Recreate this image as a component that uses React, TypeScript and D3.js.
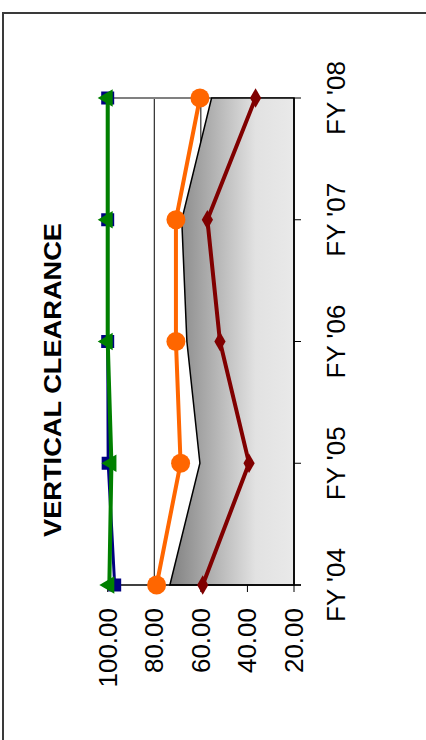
import React from "react";
import * as d3 from "d3";

const categories = ["FY '04", "FY '05", "FY '06", "FY '07", "FY '08"];
const areaValues = [73.3, 60.4, 66, 68.2, 55.4];
const orangeValues = [79, 68.7, 70.7, 70.7, 60.4];
const redValues = [59.2, 39.3, 51.8, 57.2, 36.5];
const blueValues = [97, 99.8, 100, 100, 100];
const greenValues = [99.3, 98.4, 100, 100, 100];
const valueTicks = [100, 80, 60, 40, 20];
const gridValues = [80, 60, 40];
const title = "VERTICAL CLEARANCE";

export default function App() {
  const y = d3.scalePoint<string>().domain(categories).range([585, 98]);
  const x = d3.scaleLinear().domain([20, 100]).range([294, 107.7]);

  const pts = (vals: number[]) => vals.map((v, i) => [v, categories[i]] as [number, string]);

  const line = d3
    .line<[number, string]>()
    .x((d) => x(d[0]))
    .y((d) => y(d[1])!);

  const area = d3
    .area<[number, string]>()
    .y((d) => y(d[1])!)
    .x0(() => x(20))
    .x1((d) => x(d[0]));

  const font = "'Liberation Sans', Arial, sans-serif";
  const triangle = d3.symbol(d3.symbolTriangle, 130)();
  const diamond = d3.symbol(d3.symbolDiamond, 110)();

  return (
    <svg
      width={426}
      height={740}
      style={{ position: "absolute", left: 0, top: 0, background: "#fff" }}
    >
      <defs>
        <linearGradient id="areaGrad" gradientUnits="userSpaceOnUse" x1={x(75)} y1={0} x2={x(20)} y2={0}>
          <stop offset="0" stopColor="#7c7c7c" />
          <stop offset="0.7" stopColor="#e2e2e2" />
          <stop offset="1" stopColor="#e9e9e9" />
        </linearGradient>
      </defs>
      <rect x={3} y={13} width={600} height={800} fill="none" stroke="#3a3a3a" strokeWidth={2} />

      {/* gridlines */}
      {gridValues.map((v) => (
        <line key={v} x1={x(v)} x2={x(v)} y1={y(categories[4])!} y2={y(categories[0])!} stroke="#000" strokeWidth={1} />
      ))}
      {/* plot top border */}
      <line x1={x(100)} x2={x(20)} y1={y(categories[4])!} y2={y(categories[4])!} stroke="#808080" strokeWidth={2} />

      {/* area */}
      <path d={area(pts(areaValues))!} fill="url(#areaGrad)" stroke="#000" strokeWidth={1.5} />

      {/* axes */}
      <line x1={x(20)} x2={x(20)} y1={y(categories[4])!} y2={y(categories[0])!} stroke="#000" strokeWidth={1.5} />
      {categories.map((c) => (
        <line key={c} x1={x(20)} x2={x(20) + 7} y1={y(c)!} y2={y(c)!} stroke="#000" strokeWidth={1} />
      ))}
      <line x1={x(100) - 4} x2={x(20) + 7} y1={y(categories[0])!} y2={y(categories[0])!} stroke="#000" strokeWidth={1.5} />
      {valueTicks.map((v) => (
        <line key={v} x1={x(v)} x2={x(v)} y1={y(categories[0])!} y2={y(categories[0])! + 7} stroke="#000" strokeWidth={1} />
      ))}

      {/* lines */}
      <path d={line(pts(blueValues))!} fill="none" stroke="#000080" strokeWidth={3} />
      {pts(blueValues).map((d, i) => (
        <rect key={i} x={x(d[0]) - 6.5} y={y(d[1])! - 6.5} width={13} height={13} fill="#000080" />
      ))}
      <path d={line(pts(greenValues))!} fill="none" stroke="#008000" strokeWidth={4} />
      {pts(greenValues).map((d, i) => (
        <path key={i} d={triangle!} transform={`translate(${x(d[0])},${y(d[1])}) rotate(-90)`} fill="#008000" />
      ))}
      <path d={line(pts(orangeValues))!} fill="none" stroke="#ff6600" strokeWidth={4} />
      {pts(orangeValues).map((d, i) => (
        <circle key={i} cx={x(d[0])} cy={y(d[1])!} r={9.5} fill="#ff6600" />
      ))}
      <path d={line(pts(redValues))!} fill="none" stroke="#800000" strokeWidth={4} />
      {pts(redValues).map((d, i) => (
        <path key={i} d={diamond!} transform={`translate(${x(d[0])},${y(d[1])})`} fill="#800000" />
      ))}

      {/* value labels */}
      {valueTicks.map((v) => (
        <text
          key={v}
          transform={`translate(${x(v)},${y(categories[0])! + 23}) rotate(-90)`}
          textAnchor="end"
          dominantBaseline="central"
          fontFamily={font}
          fontSize={26}
        >
          {v.toFixed(2)}
        </text>
      ))}
      {/* category labels */}
      {categories.map((c) => (
        <text
          key={c}
          transform={`translate(${345},${y(c)}) rotate(-90)`}
          textAnchor="middle"
          fontFamily={font}
          fontSize={26}
        >
          {c}
        </text>
      ))}
      {/* title */}
      <text
        transform={`translate(61,380) rotate(-90)`}
        textAnchor="middle"
        fontFamily={font}
        fontWeight="bold"
        fontSize={24}
        textLength={314}
        lengthAdjust="spacingAndGlyphs"
      >
        {title}
      </text>
    </svg>
  );
}
